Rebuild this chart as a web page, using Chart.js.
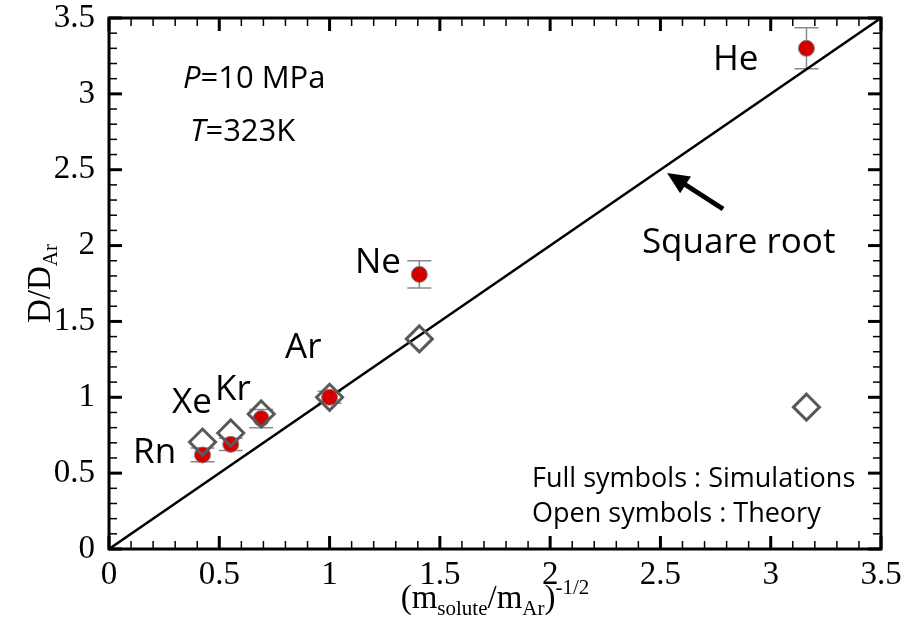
<!DOCTYPE html>
<html>
<head>
<meta charset="utf-8">
<script src="https://cdn.jsdelivr.net/npm/chart.js@4.4.1/dist/chart.umd.min.js"></script>
<style>
  html, body { margin: 0; padding: 0; background: #fff; }
  #wrap { width: 904px; height: 625px; }
</style>
</head>
<body>
<div id="wrap"><canvas id="chart" width="904" height="625"></canvas></div>
<script>
// solutes, x = (m_solute/m_Ar)^-1/2
var elements = ['Rn', 'Xe', 'Kr', 'Ar', 'Ne', 'He'];
var massRatio = [0.424, 0.552, 0.690, 1.0, 1.407, 3.162];
// D/D_Ar from simulations (full symbols) and their error bars
var simulation = [0.62, 0.69, 0.86, 1.0, 1.81, 3.30];
var simError = [0.045, 0.04, 0.06, 0.04, 0.09, 0.135];
// D/D_Ar from theory (open symbols)
var theory = [0.705, 0.765, 0.89, 1.0, 1.385, 0.935];
// square root law
var lineX = [0, 3.5];
var lineY = [0, 3.5];
var axisMin = 0, axisMax = 3.5, majorStep = 0.5, minorStep = 0.1;

var simPoints = massRatio.map(function(x, i) { return {x: x, y: simulation[i]}; });
var theoryPoints = massRatio.map(function(x, i) { return {x: x, y: theory[i]}; });
var linePoints = lineX.map(function(x, i) { return {x: x, y: lineY[i]}; });

// text annotations, positioned in data units
var labelPos = {
  Rn: [0.109, 0.567], Xe: [0.286, 0.896], Kr: [0.481, 0.982],
  Ar: [0.798, 1.259], Ne: [1.115, 1.819], He: [2.738, 3.157]
};

var sansFont = '"Open Sans", "Noto Sans", sans-serif';
var serifFont = '"Liberation Serif", "DejaVu Serif", serif';

var errorBars = {
  id: 'errorBars',
  beforeDatasetsDraw: function(chart) {
    var ctx = chart.ctx, x = chart.scales.x, y = chart.scales.y;
    ctx.save();
    ctx.strokeStyle = '#8a8a8a';
    ctx.lineWidth = 1.5;
    for (var i = 0; i < massRatio.length; i++) {
      var px = x.getPixelForValue(massRatio[i]);
      var top = y.getPixelForValue(simulation[i] + simError[i]);
      var bot = y.getPixelForValue(simulation[i] - simError[i]);
      ctx.beginPath();
      ctx.moveTo(px, top); ctx.lineTo(px, bot);
      ctx.moveTo(px - 12, top); ctx.lineTo(px + 12, top);
      ctx.moveTo(px - 12, bot); ctx.lineTo(px + 12, bot);
      ctx.stroke();
    }
    ctx.restore();
  }
};

function line(ctx, x1, y1, x2, y2) {
  ctx.beginPath(); ctx.moveTo(x1, y1); ctx.lineTo(x2, y2); ctx.stroke();
}

var frame = {
  id: 'frame',
  afterDatasetsDraw: function(chart) {
    var ctx = chart.ctx, a = chart.chartArea, x = chart.scales.x, y = chart.scales.y;
    ctx.save();
    ctx.strokeStyle = '#000';
    var n = Math.round((axisMax - axisMin) / minorStep);
    for (var i = 0; i <= n; i++) {
      var v = axisMin + i * minorStep;
      var major = i % Math.round(majorStep / minorStep) === 0;
      var len = major ? 13 : 8;
      ctx.lineWidth = major ? 3 : 1.5;
      var px = x.getPixelForValue(v), py = y.getPixelForValue(v);
      line(ctx, px, a.bottom, px, a.bottom - len);
      line(ctx, px, a.top, px, a.top + len);
      line(ctx, a.left, py, a.left + len, py);
      line(ctx, a.right, py, a.right - len, py);
    }
    ctx.lineWidth = 3;
    ctx.strokeRect(a.left, a.top, a.right - a.left, a.bottom - a.top);
    ctx.restore();
  }
};

function runs(ctx, parts, x, y) {
  // parts: [text, size, dy]
  var w = 0;
  parts.forEach(function(p) { ctx.font = p[1] + 'px ' + serifFont; w += ctx.measureText(p[0]).width; });
  var cx = x - w / 2;
  parts.forEach(function(p) {
    ctx.font = p[1] + 'px ' + serifFont;
    ctx.fillText(p[0], cx, y + p[2]);
    cx += ctx.measureText(p[0]).width;
  });
}

var notes = {
  id: 'notes',
  afterDraw: function(chart) {
    var ctx = chart.ctx, x = chart.scales.x, y = chart.scales.y;
    ctx.save();
    ctx.fillStyle = '#000';
    ctx.textBaseline = 'alphabetic';
    ctx.textAlign = 'left';

    ctx.font = '35px ' + sansFont;
    elements.forEach(function(el) {
      var p = labelPos[el];
      ctx.fillText(el, x.getPixelForValue(p[0]), y.getPixelForValue(p[1]));
    });
    ctx.fillText('Square root', x.getPixelForValue(2.416), y.getPixelForValue(1.951));

    // P and T
    var px = x.getPixelForValue(0.335), py = y.getPixelForValue(3.039);
    ctx.font = 'italic 31px ' + sansFont;
    ctx.fillText('P', px, py);
    var w = ctx.measureText('P').width;
    ctx.font = '31px ' + sansFont;
    ctx.fillText('=10 MPa', px + w, py);
    px = x.getPixelForValue(0.367); py = y.getPixelForValue(2.689);
    ctx.font = 'italic 31px ' + sansFont;
    ctx.fillText('T', px, py);
    w = ctx.measureText('T').width;
    ctx.font = '31px ' + sansFont;
    ctx.fillText('=323K', px + w, py);

    // legend text
    ctx.font = '27px ' + sansFont;
    ctx.fillText('Full symbols : Simulations', x.getPixelForValue(1.918), y.getPixelForValue(0.409));
    ctx.fillText('Open symbols : Theory', x.getPixelForValue(1.918), y.getPixelForValue(0.178));

    // arrow
    var tx = x.getPixelForValue(2.784), ty = y.getPixelForValue(2.241);
    var hx = x.getPixelForValue(2.530), hy = y.getPixelForValue(2.479);
    var ang = Math.atan2(hy - ty, hx - tx);
    ctx.strokeStyle = '#000';
    ctx.lineWidth = 5;
    ctx.beginPath();
    ctx.moveTo(tx, ty);
    ctx.lineTo(hx - 14 * Math.cos(ang), hy - 14 * Math.sin(ang));
    ctx.stroke();
    ctx.beginPath();
    ctx.moveTo(hx, hy);
    ctx.lineTo(hx - 22 * Math.cos(ang) + 10 * Math.sin(ang), hy - 22 * Math.sin(ang) - 10 * Math.cos(ang));
    ctx.lineTo(hx - 22 * Math.cos(ang) - 10 * Math.sin(ang), hy - 22 * Math.sin(ang) + 10 * Math.cos(ang));
    ctx.closePath();
    ctx.fill();

    // axis titles
    var a = chart.chartArea;
    runs(ctx, [['(m', 33, 0], ['solute', 21, 7], ['/m', 33, 0], ['Ar', 21, 7], [')', 33, 0], ['-1/2', 21, -14]],
      (a.left + a.right) / 2, 608);
    ctx.translate(50, (a.top + a.bottom) / 2);
    ctx.rotate(-Math.PI / 2);
    runs(ctx, [['D/D', 33, 0], ['Ar', 21, 7]], 0, 0);
    ctx.restore();
  }
};

var tickFont = { family: serifFont, size: 33, lineHeight: 1 };
function tickText(v) { return String(v); }

new Chart(document.getElementById('chart'), {
  type: 'scatter',
  data: {
    datasets: [
      {
        label: 'Theory',
        data: theoryPoints,
        pointStyle: 'rectRot',
        pointRadius: 13,
        pointBorderWidth: 3,
        pointBorderColor: '#595959',
        pointBackgroundColor: 'rgba(0,0,0,0)',
        order: 1
      },
      {
        label: 'Simulations',
        data: simPoints,
        pointStyle: 'circle',
        pointRadius: 8,
        pointBorderWidth: 1,
        pointBorderColor: '#808080',
        pointBackgroundColor: '#d40000',
        order: 2
      },
      {
        label: 'Square root',
        type: 'line',
        data: linePoints,
        borderColor: '#000',
        borderWidth: 2.5,
        pointRadius: 0,
        fill: false,
        order: 3
      }
    ]
  },
  options: {
    responsive: false,
    animation: false,
    events: [],
    layout: { padding: { top: 18, right: 23, left: 0, bottom: 0 } },
    plugins: { legend: { display: false }, tooltip: { enabled: false } },
    scales: {
      x: {
        type: 'linear', min: axisMin, max: axisMax,
        grid: { display: false, drawTicks: false },
        border: { display: false },
        ticks: { stepSize: majorStep, font: tickFont, color: '#000', padding: 10, maxRotation: 0, callback: tickText },
        afterFit: function(s) { s.height = 76; s.paddingLeft = 0; s.paddingRight = 0; }
      },
      y: {
        type: 'linear', min: axisMin, max: axisMax,
        grid: { display: false, drawTicks: false },
        border: { display: false },
        ticks: { stepSize: majorStep, font: tickFont, color: '#000', padding: 14, callback: tickText },
        afterFit: function(s) { s.width = 109; s.paddingTop = 0; s.paddingBottom = 0; }
      }
    }
  },
  plugins: [errorBars, frame, notes]
});
</script>
</body>
</html>
